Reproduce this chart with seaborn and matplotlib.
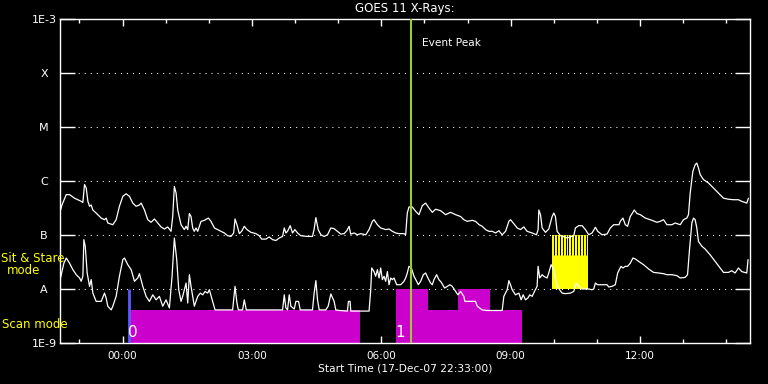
import matplotlib
matplotlib.use("Agg")
import numpy as np
import pandas as pd
import matplotlib.pyplot as plt
import seaborn as sns
from matplotlib.ticker import FixedLocator, FuncFormatter, NullLocator

# ---------------- data (time in minutes after 18-Dec-07 00:00, flux in W/m^2) ----------------
long_t = [
    -86.2, -84.3, -78.3, -73.7, -66.8, -57.5, -55.2, -52.9, -50.5, -48.2,
    -45.9, -43.6, -41.3, -36.7, -29.7, -25.1, -22.8, -20.5, -13.5, -8.9,
    -4.3, 0.4, 5.0, 9.6, 14.3, 18.9, 23.5, 25.9, 30.5, 35.1,
    39.7, 44.4, 49.0, 53.6, 58.3, 62.9, 67.5, 69.8, 72.1, 74.5,
    76.8, 81.4, 86.0, 88.4, 90.7, 93.0, 95.3, 97.6, 99.9, 102.2,
    104.6, 109.2, 113.9, 119.4, 123.1, 127.8, 132.4, 137.0, 141.6, 146.3,
    150.9, 154.6, 156.5, 159.2, 162.5, 165.7, 169.4, 173.1, 178.7, 185.6,
    190.2, 193.5, 199.5, 204.1, 208.8, 213.4, 218.0, 222.7, 225.0, 227.3,
    229.6, 233.3, 236.5, 239.8, 243.5, 248.1, 257.4, 264.3, 266.6, 269.0,
    272.2, 275.9, 280.5, 285.2, 289.8, 294.4, 299.0, 303.6, 308.3, 312.0,
    315.2, 317.5, 322.2, 326.8, 331.4, 338.4, 343.0, 347.6, 349.9, 354.6,
    359.2, 366.1, 370.8, 375.4, 380.0, 384.7, 391.6, 393.9, 396.2, 398.5,
    403.2, 407.8, 412.4, 417.1, 421.7, 426.3, 431.0, 435.6, 442.5, 449.5,
    456.4, 463.4, 470.3, 474.9, 479.6, 486.5, 491.1, 496.2, 500.4, 505.1,
    509.7, 514.3, 519.0, 523.6, 528.2, 532.9, 537.5, 539.8, 544.4, 549.1,
    553.7, 558.3, 562.9, 569.9, 575.9, 578.2, 579.2, 581.5, 583.8, 588.4,
    593.0, 597.7, 600.0, 602.3, 604.6, 609.3, 618.5, 627.8, 630.1, 634.7,
    639.3, 644.0, 648.6, 653.2, 657.9, 661.1, 667.1, 674.1, 678.7, 683.3,
    690.7, 692.5, 696.2, 699.5, 702.7, 706.4, 712.0, 715.7, 720.3, 727.3,
    734.2, 743.5, 748.1, 752.7, 757.4, 764.3, 768.9, 775.9, 780.5, 785.1,
    787.4, 789.8, 793.5, 796.7, 799.0, 801.3, 803.7, 808.3, 815.2, 822.2,
    829.1, 836.1, 843.0, 849.9, 856.9, 861.5, 868.5, 870.8,
]
long_flux = [
    2.9e-7, 3.6e-7, 5.6e-7, 5.6e-7, 4.8e-7, 4.2e-7, 4.0e-7, 8.6e-7, 7.4e-7, 4.2e-7,
    3.4e-7, 3.6e-7, 2.9e-7, 2.55e-7, 2.06e-7, 1.92e-7, 2.06e-7, 1.67e-7, 1.55e-7, 1.92e-7,
    3.4e-7, 5.2e-7, 5.8e-7, 5.2e-7, 3.9e-7, 3.4e-7, 3.6e-7, 3.9e-7, 2.9e-7, 1.92e-7,
    1.72e-7, 1.98e-7, 1.67e-7, 1.41e-7, 1.29e-7, 1.41e-7, 1.17e-7, 2.2e-7, 7.9e-7, 6.0e-7,
    2.9e-7, 1.55e-7, 1.26e-7, 1.45e-7, 1.26e-7, 2.5e-7, 2.2e-7, 1.35e-7, 1.17e-7, 1.35e-7,
    1.17e-7, 1.79e-7, 1.87e-7, 2.06e-7, 1.79e-7, 1.35e-7, 1.26e-7, 1.17e-7, 1.09e-7, 9.7e-8,
    9.4e-8, 1.09e-7, 1.98e-7, 1.55e-7, 1.06e-7, 1.17e-7, 1.45e-7, 1.26e-7, 1.12e-7, 1.06e-7,
    9.7e-8, 8.4e-8, 8.4e-8, 9.2e-8, 8.2e-8, 7.9e-8, 8.8e-8, 9.4e-8, 1.35e-7, 1.09e-7,
    1.17e-7, 1.49e-7, 1.09e-7, 1.26e-7, 1.09e-7, 9.7e-8, 9.4e-8, 9.4e-8, 1.29e-7, 2.1e-7,
    1.26e-7, 1.01e-7, 9.4e-8, 1.01e-7, 1.35e-7, 1.31e-7, 1.17e-7, 1.04e-7, 1.06e-7, 1.20e-7,
    1.45e-7, 1.04e-7, 1.09e-7, 1.01e-7, 1.06e-7, 1.01e-7, 1.26e-7, 1.79e-7, 1.92e-7, 1.55e-7,
    1.35e-7, 1.26e-7, 1.29e-7, 1.17e-7, 1.09e-7, 1.06e-7, 1.06e-7, 1.01e-7, 2.55e-7, 3.3e-7,
    3.3e-7, 2.75e-7, 2.38e-7, 3.5e-7, 3.9e-7, 3.16e-7, 2.63e-7, 3.0e-7, 2.82e-7, 2.38e-7,
    2.63e-7, 2.38e-7, 2.2e-7, 1.92e-7, 1.79e-7, 1.87e-7, 1.79e-7, 1.55e-7, 1.45e-7, 1.26e-7,
    1.17e-7, 1.17e-7, 1.09e-7, 1.20e-7, 1.01e-7, 1.17e-7, 1.79e-7, 1.92e-7, 1.62e-7, 1.35e-7,
    1.26e-7, 1.41e-7, 1.17e-7, 1.09e-7, 1.01e-7, 1.26e-7, 2.9e-7, 2.38e-7, 1.35e-7, 1.12e-7,
    1.29e-7, 2.2e-7, 2.55e-7, 2.2e-7, 1.17e-7, 9.7e-8, 8.8e-8, 9.7e-8, 1.35e-7, 1.49e-7,
    1.49e-7, 1.26e-7, 1.01e-7, 1.09e-7, 1.39e-7, 1.17e-7, 1.01e-7, 1.04e-7, 1.35e-7, 1.55e-7,
    1.55e-7, 1.79e-7, 2.06e-7, 1.55e-7, 1.45e-7, 2.2e-7, 2.9e-7, 2.5e-7, 2.38e-7, 2.06e-7,
    1.92e-7, 1.72e-7, 1.79e-7, 1.92e-7, 1.55e-7, 1.55e-7, 1.67e-7, 1.55e-7, 1.92e-7, 2.06e-7,
    2.38e-7, 6.0e-7, 1.51e-6, 2.0e-6, 2.15e-6, 1.74e-6, 1.31e-6, 1.06e-6, 9.2e-7, 7.4e-7,
    6.0e-7, 4.8e-7, 4.6e-7, 4.5e-7, 4.5e-7, 4.2e-7, 3.9e-7, 4.8e-7,
]

short_t = [
    -86.2, -84.3, -81.6, -78.3, -73.7, -69.1, -64.4, -59.8, -57.5, -55.2,
    -53.8, -51.9, -49.2, -45.9, -43.6, -41.3, -36.7, -29.7, -25.1, -22.8,
    -20.5, -15.8, -13.5, -8.9, -4.3, 0.4, 2.7, 7.3, 12.0, 16.6,
    21.2, 23.5, 28.2, 32.8, 37.4, 42.1, 46.7, 51.3, 55.9, 60.6,
    65.2, 68.9, 72.1, 75.4, 78.2, 81.4, 83.7, 88.4, 90.7, 93.0,
    95.3, 99.9, 104.6, 108.3, 111.5, 114.8, 118.5, 120.8, 125.4, 128.7,
    153.2, 156.5, 159.2, 161.1, 167.1, 169.4, 172.2, 222.7, 225.0, 227.3,
    229.6, 231.9, 234.2, 238.9, 241.2, 244.9, 247.2, 264.3, 266.6, 269.0,
    271.3, 273.6, 282.8, 286.1, 289.8, 294.4, 296.7, 301.8, 312.9, 314.3,
    316.6, 317.5, 343.0, 345.3, 346.7, 349.9, 352.2, 354.6, 356.9, 359.2,
    361.5, 363.8, 366.1, 368.5, 370.8, 373.1, 375.4, 377.7, 381.4, 387.0,
    391.6, 393.9, 396.2, 398.5, 401.8, 405.5, 409.2, 411.5, 414.8, 418.5,
    421.7, 424.9, 428.6, 431.0, 433.3, 437.0, 440.2, 443.5, 448.1, 451.8,
    455.5, 458.7, 463.4, 466.6, 470.3, 474.9, 476.3, 491.1, 493.5, 500.4,
    507.4, 528.2, 530.5, 535.2, 537.5, 539.8, 542.1, 546.7, 551.4, 554.6,
    557.4, 560.6, 563.9, 566.6, 569.9, 573.1, 576.8, 578.2, 580.5, 583.8,
    586.1, 590.7, 593.0, 596.3, 600.0, 604.6, 611.6, 616.2, 623.1, 627.8,
    631.0, 634.7, 639.3, 648.6, 653.2, 655.6, 657.9, 661.1, 674.1, 676.4,
    681.0, 685.6, 688.9, 693.5, 696.2, 699.5, 702.7, 706.4, 710.1, 713.4,
    718.0, 724.9, 731.9, 738.8, 745.8, 752.7, 757.4, 764.3, 771.2, 775.9,
    782.8, 786.1, 788.8, 792.1, 794.4, 796.7, 799.0, 801.3, 806.0, 810.6,
    817.5, 824.5, 831.4, 836.1, 843.0, 847.6, 852.3, 856.9, 861.5, 868.5,
    870.3,
]
short_flux = [
    1.6e-8, 2.1e-8, 3.0e-8, 3.75e-8, 3.0e-8, 2.28e-8, 1.84e-8, 1.6e-8, 1.39e-8, 1.72e-8,
    8.2e-8, 6.2e-8, 1.98e-8, 1.12e-8, 1.49e-8, 8.4e-9, 5.9e-9, 5.9e-9, 8.4e-9, 6.8e-9,
    4.8e-9, 4.1e-9, 4.8e-9, 7.3e-9, 1.72e-8, 3.5e-8, 3.75e-8, 2.82e-8, 2.28e-8, 1.39e-8,
    1.6e-8, 1.92e-8, 1.12e-8, 7.3e-9, 5.9e-9, 7.8e-9, 6.3e-9, 7.3e-9, 4.8e-9, 6.3e-9,
    4.45e-9, 1.72e-8, 8.8e-8, 3.5e-8, 9.7e-9, 5.9e-9, 7.3e-9, 1.29e-8, 5.5e-9, 1.84e-8,
    1.12e-8, 4.8e-9, 7.3e-9, 8.4e-9, 7.8e-9, 9.0e-9, 8.4e-9, 9.7e-9, 5.9e-9, 4.1e-9,
    4.1e-9, 1.12e-8, 5.5e-9, 4.1e-9, 4.1e-9, 6.3e-9, 4.1e-9, 4.1e-9, 7.8e-9, 4.45e-9,
    4.1e-9, 7.8e-9, 4.8e-9, 4.25e-9, 5.9e-9, 5.9e-9, 4.1e-9, 4.1e-9, 8.4e-9, 1.43e-8,
    6.3e-9, 4.1e-9, 4.1e-9, 4.8e-9, 8.1e-9, 5.9e-9, 4.1e-9, 4.0e-9, 3.9e-9, 5.9e-9,
    5.9e-9, 3.9e-9, 3.9e-9, 9.7e-9, 2.45e-8, 2.1e-8, 1.72e-8, 2.28e-8, 1.6e-8, 2.45e-8,
    1.49e-8, 1.72e-8, 1.39e-8, 2.1e-8, 1.2e-8, 1.6e-8, 1.49e-8, 1.6e-8, 1.2e-8, 1.2e-8,
    1.39e-8, 1.6e-8, 1.98e-8, 2.63e-8, 2.45e-8, 1.72e-8, 1.39e-8, 1.2e-8, 1.39e-8, 1.84e-8,
    1.98e-8, 1.6e-8, 1.29e-8, 1.2e-8, 1.49e-8, 1.84e-8, 1.49e-8, 1.33e-8, 1.04e-8, 1.12e-8,
    1.2e-8, 1.12e-8, 9.0e-9, 7.8e-9, 9.0e-9, 7.3e-9, 5.9e-9, 5.9e-9, 4.8e-9, 4.1e-9,
    4.0e-9, 4.0e-9, 7.3e-9, 9.7e-9, 1.43e-8, 1.2e-8, 9.7e-9, 7.8e-9, 8.4e-9, 6.3e-9,
    7.8e-9, 6.3e-9, 6.8e-9, 7.8e-9, 7.3e-9, 9.0e-9, 1.12e-8, 2.63e-8, 1.6e-8, 1.84e-8,
    1.72e-8, 1.6e-8, 1.98e-8, 2.82e-8, 2.28e-8, 1.12e-8, 8.4e-9, 8.2e-9, 8.4e-9, 9.0e-9,
    1.29e-8, 1.12e-8, 1.0e-8, 1.0e-8, 9.7e-9, 1.0e-8, 1.29e-8, 1.2e-8, 1.2e-8, 1.09e-8,
    1.12e-8, 1.2e-8, 1.98e-8, 2.63e-8, 2.45e-8, 2.63e-8, 2.63e-8, 3.0e-8, 3.75e-8, 3.6e-8,
    3.25e-8, 2.82e-8, 2.35e-8, 2.03e-8, 1.98e-8, 1.92e-8, 1.84e-8, 1.84e-8, 1.77e-8, 1.6e-8,
    1.64e-8, 1.84e-8, 5.3e-8, 1.67e-7, 2.06e-7, 1.92e-7, 1.35e-7, 7.6e-8, 6.2e-8, 5.5e-8,
    4.3e-8, 3.25e-8, 2.45e-8, 2.03e-8, 2.03e-8, 2.18e-8, 1.98e-8, 2.45e-8, 2.1e-8, 1.98e-8,
    3.5e-8,
]

# scan-mode blocks (magenta) and sit & stare block (yellow)
scan_start = [9.6, 381.0, 425.4, 467.1, 511.5]
scan_end = [331.0, 425.4, 467.1, 511.5, 556.0]
scan_top = [4.1e-9, 1.0e-8, 4.1e-9, 1.0e-8, 4.1e-9]
scan_labels = ["0", "1"]
scan_label_t = [14.3, 386.5]
sit_start, sit_end = 596.9, 648.3
sit_low, sit_high = 1.0e-8, 1.0e-7
scan_marker_t = 8.5
event_peak_t = 401.5

x_range = (-87, 873)
y_range = (1e-9, 1e-3)
y_ticks = [1e-9, 1e-8, 1e-7, 1e-6, 1e-5, 1e-4, 1e-3]
y_ticklabels = ["1E-9", "A", "B", "C", "M", "X", "1E-3"]
x_major = [0, 180, 360, 540, 720]
x_minor = [-60, 60, 120, 240, 300, 420, 480, 600, 660, 780, 840]

# ---------------- figure ----------------
sns.set_theme(style="dark", rc={"axes.facecolor": "black", "figure.facecolor": "black"})
plt.rcParams["font.family"] = ["DejaVu Sans"]

fig = plt.figure(figsize=(7.68, 3.84), dpi=100, facecolor="black")
ax = fig.add_axes([60 / 768, 41 / 384, 690 / 768, 324 / 384])
ax.set_facecolor("black")

df = pd.concat([
    pd.DataFrame({"minutes": long_t, "flux": long_flux, "channel": "1-8 A"}),
    pd.DataFrame({"minutes": short_t, "flux": short_flux, "channel": "0.5-4 A"}),
], ignore_index=True)

sns.lineplot(data=df, x="minutes", y="flux", units="channel", estimator=None,
             color="white", lw=0.9, ax=ax, zorder=5, legend=False)

ax.set_yscale("log")
ax.set_xlim(*x_range)
ax.set_ylim(*y_range)

# scan mode blocks
ax.bar(scan_start, np.array(scan_top) - y_range[0], width=np.array(scan_end) - np.array(scan_start),
       bottom=y_range[0], align="edge", color="#cc00cc", lw=0, zorder=2)
ax.vlines(scan_marker_t, y_range[0], 1e-8, color="#5a5aff", lw=2.0, zorder=4)
for lab, t in zip(scan_labels, scan_label_t):
    ax.text(t, 1.55e-9, lab, color="white", fontsize=11, ha="center", va="center", zorder=7)

# sit & stare block
ax.bar([sit_start], [sit_high - sit_low], width=[sit_end - sit_start], bottom=sit_low,
       align="edge", color="#ffff00", lw=0, zorder=2)
ax.vlines(np.linspace(sit_start + 3.2, sit_end - 3.4, 12), 4.3e-8, sit_high,
          color="black", lw=0.7, zorder=3)

# event peak
ax.axvline(event_peak_t, color="#9acd32", lw=1.5, zorder=6)
ax.text(417.0, 3.6e-4, "Event Peak", color="white", fontsize=7.6, ha="left", va="center")

# dotted grid at class levels
ax.grid(False)
for v in y_ticks[1:-1]:
    ax.axhline(v, color="white", lw=0.75, linestyle=(0, (1, 4.8)), zorder=1)

# axes styling
for s in ax.spines.values():
    s.set_color("white")
    s.set_linewidth(1.0)
    s.set_visible(True)

ax.yaxis.set_major_locator(FixedLocator(y_ticks))
ax.yaxis.set_minor_locator(NullLocator())
ax.set_yticklabels(y_ticklabels)
ax.tick_params(axis="y", which="major", direction="in", length=10.8, width=1.0,
               left=True, right=True, colors="white", labelsize=8, pad=11.5)
for lbl in ax.get_yticklabels():
    lbl.set_horizontalalignment("center")

ax.xaxis.set_major_locator(FixedLocator(x_major))
ax.xaxis.set_minor_locator(FixedLocator(x_minor))
ax.xaxis.set_major_formatter(FuncFormatter(lambda v, p: f"{int(v // 60) % 24:02d}:00"))
ax.tick_params(axis="x", which="major", direction="in", length=5, width=1.0,
               top=True, bottom=True, colors="white", labelsize=7.5, pad=6)
ax.tick_params(axis="x", which="minor", direction="in", length=2.8, width=1.0,
               top=True, bottom=True, colors="white")

ax.set_ylabel("")
ax.set_xlabel("Start Time (17-Dec-07 22:33:00)", color="white", fontsize=7.7, labelpad=1.5)
ax.set_title("GOES 11 X-Rays:", color="white", fontsize=8.5, pad=5)

fig.text(1 / 768, 1 - 259 / 384, "Sit & Stare", color="#ffff00", fontsize=8.5, ha="left", va="center")
fig.text(24 / 768, 1 - 271 / 384, "mode", color="#ffff00", fontsize=8.5, ha="center", va="center")
fig.text(2 / 768, 1 - 324 / 384, "Scan mode", color="#ffff00", fontsize=8.5, ha="left", va="center")

fig.savefig("out.png", dpi=100, facecolor="black")
